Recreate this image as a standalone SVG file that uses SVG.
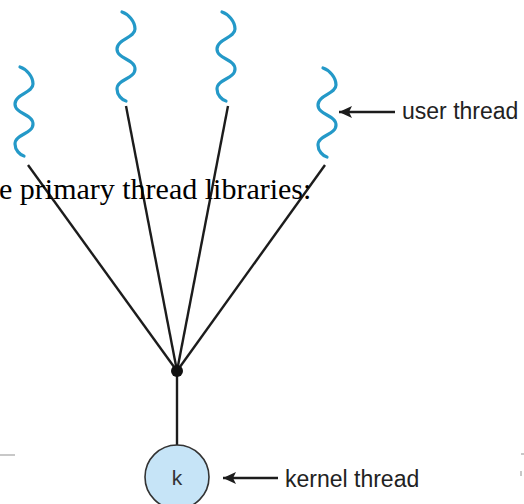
<svg xmlns="http://www.w3.org/2000/svg" xmlns:xlink="http://www.w3.org/1999/xlink" width="524" height="504" viewBox="0 0 524 504">
<style>
.sq{fill:none;stroke:#2499c8;stroke-width:3.2;stroke-linecap:round}
.ln{stroke:#1c1c1c;stroke-width:2.4;fill:none}
.lab{font-family:"Liberation Sans",Arial,sans-serif;font-size:23px;fill:#222}
.over{font-family:"Liberation Serif","Times New Roman",serif;font-size:30px;fill:#000}
</style>
<defs>
<path id="sqp" d="M -4,0 C 2,2 9,9 9,17 C 9,26 -9,27 -9,37 C -9,47 9,47 9,57 C 9,67 -9,67 -9,77 C -9,83 -4,88 0,89"/>
<marker id="ah" markerUnits="userSpaceOnUse" markerWidth="14" markerHeight="12" refX="13" refY="6" orient="auto">
<path d="M0,0 L13,6 L0,12 L3,6 Z" fill="#1c1c1c"/>
</marker>
</defs>
<rect width="524" height="504" fill="#fff"/>
<g id="slide-marks" stroke="#c8c8c8" stroke-width="2">
<line x1="0" y1="455" x2="15" y2="455"/>
<line x1="521" y1="454" x2="524" y2="454"/>
<line x1="521" y1="471" x2="521" y2="476"/>
</g>
<g id="connectors">
<line class="ln" x1="28" y1="165" x2="177" y2="371"/>
<line class="ln" x1="126" y1="106" x2="177" y2="371"/>
<line class="ln" x1="228" y1="106" x2="177" y2="371"/>
<line class="ln" x1="325" y1="165" x2="177" y2="371"/>
<line class="ln" x1="177" y1="371" x2="177" y2="446"/>
<line class="ln" x1="395" y1="112" x2="339" y2="112" marker-end="url(#ah)"/>
<line class="ln" x1="278" y1="478" x2="223" y2="478" marker-end="url(#ah)"/>
</g>
<g id="user-thread-1"><use xlink:href="#sqp" href="#sqp" class="sq" transform="translate(24,67)"/></g>
<g id="user-thread-2"><use xlink:href="#sqp" href="#sqp" class="sq" transform="translate(126,12)"/></g>
<g id="user-thread-3"><use xlink:href="#sqp" href="#sqp" class="sq" transform="translate(226,12)"/></g>
<g id="user-thread-4"><use xlink:href="#sqp" href="#sqp" class="sq" transform="translate(327,68)"/></g>
<g id="junction"><circle cx="177" cy="371" r="6" fill="#111"/></g>
<g id="kernel-thread">
<circle cx="177" cy="477" r="32" fill="#c6e4f7" stroke="#333" stroke-width="1.6"/>
<text x="177" y="485" text-anchor="middle" font-family="Liberation Sans, Arial, sans-serif" font-size="21" fill="#333">k</text>
</g>
<g id="labels">
<text class="lab" x="402" y="119">user thread</text>
<text class="lab" x="285" y="487">kernel thread</text>
</g>
<text class="over" x="-1" y="199">e primary thread libraries:</text>
</svg>
